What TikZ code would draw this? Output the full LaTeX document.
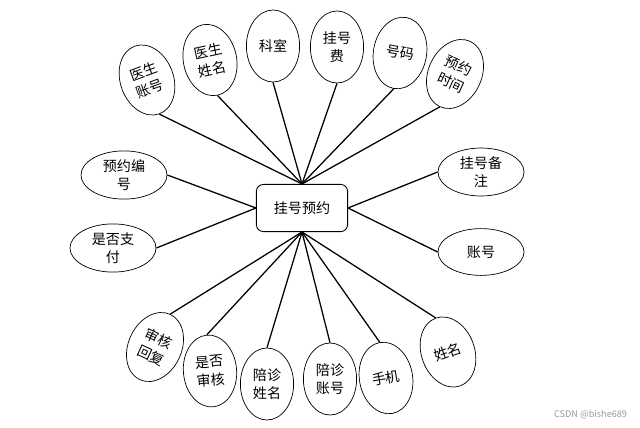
\documentclass[tikz,border=0pt]{standalone}
\usepackage{fontspec}
\setmainfont{Noto Sans CJK SC}
\usetikzlibrary{shapes.geometric}

\begin{document}
\begin{tikzpicture}[
  x=0.025cm, y=-0.025cm,
  font=\fontsize{10}{13}\selectfont,
  ent/.style  = {draw, rounded corners=5pt, line width=0.6pt,
                 minimum width=2.28cm, minimum height=1.18cm, inner sep=2pt},
  attr/.style = {draw, ellipse, align=center, line width=0.5pt,
                 minimum width=1.33cm, minimum height=1.8cm, inner sep=1pt},
  wattr/.style = {attr, minimum width=2.15cm, minimum height=1.17cm},
  link/.style = {line width=0.9pt, black},
]
\useasboundingbox (0,0) rectangle (640,428);

\node[ent] at (302,208) (main) {挂号预约};

% top attributes
\node[attr, rotate=20]  at (147,80)  (yszh) {医生\\账号};
\node[attr, rotate=12]  at (210,60)  (ysxm) {医生\\姓名};
\node[attr]             at (273,46)  (ks)   {科室};
\node[attr]             at (337,47)  (ghf)  {挂号\\费};
\node[attr, rotate=-10] at (400,53)  (hm)   {号码};
\node[attr, rotate=-25] at (455,74)  (yysj) {预约\\时间};

% left and right
\node[wattr] at (124,175) (yybh) {预约编\\号};
\node[wattr] at (113,248) (sfzf) {是否支\\付};
\node[wattr] at (481,172) (ghbz) {挂号备\\注};
\node[wattr] at (481,252) (zh)   {账号};

% bottom attributes
\node[attr, rotate=-25] at (155,347) (shhf) {审核\\回复};
\node[attr, rotate=5]   at (210,371) (sfsh) {是否\\审核};
\node[attr]             at (267,384) (pzxm) {陪诊\\姓名};
\node[attr]             at (330,379) (pzzh) {陪诊\\账号};
\node[attr, rotate=10]  at (386,378) (sj)   {手机};
\node[attr, rotate=20]  at (448,352) (xm)   {姓名};

\foreach \a in {yszh, ysxm, ks, ghf, hm, yysj}
  \draw[link] (\a.south) -- (main.north);
\foreach \a in {shhf, sfsh, pzxm, pzzh, sj, xm}
  \draw[link] (\a.north) -- (main.south);
\foreach \a in {yybh, sfzf}
  \draw[link] (\a.east) -- (main.west);
\foreach \a in {ghbz, zh}
  \draw[link] (\a.west) -- (main.east);

\node[text=black!40, font=\fontsize{6.5}{8}\selectfont, anchor=east] at (632,415) (wm) {CSDN @bishe689};
\end{tikzpicture}
\end{document}
